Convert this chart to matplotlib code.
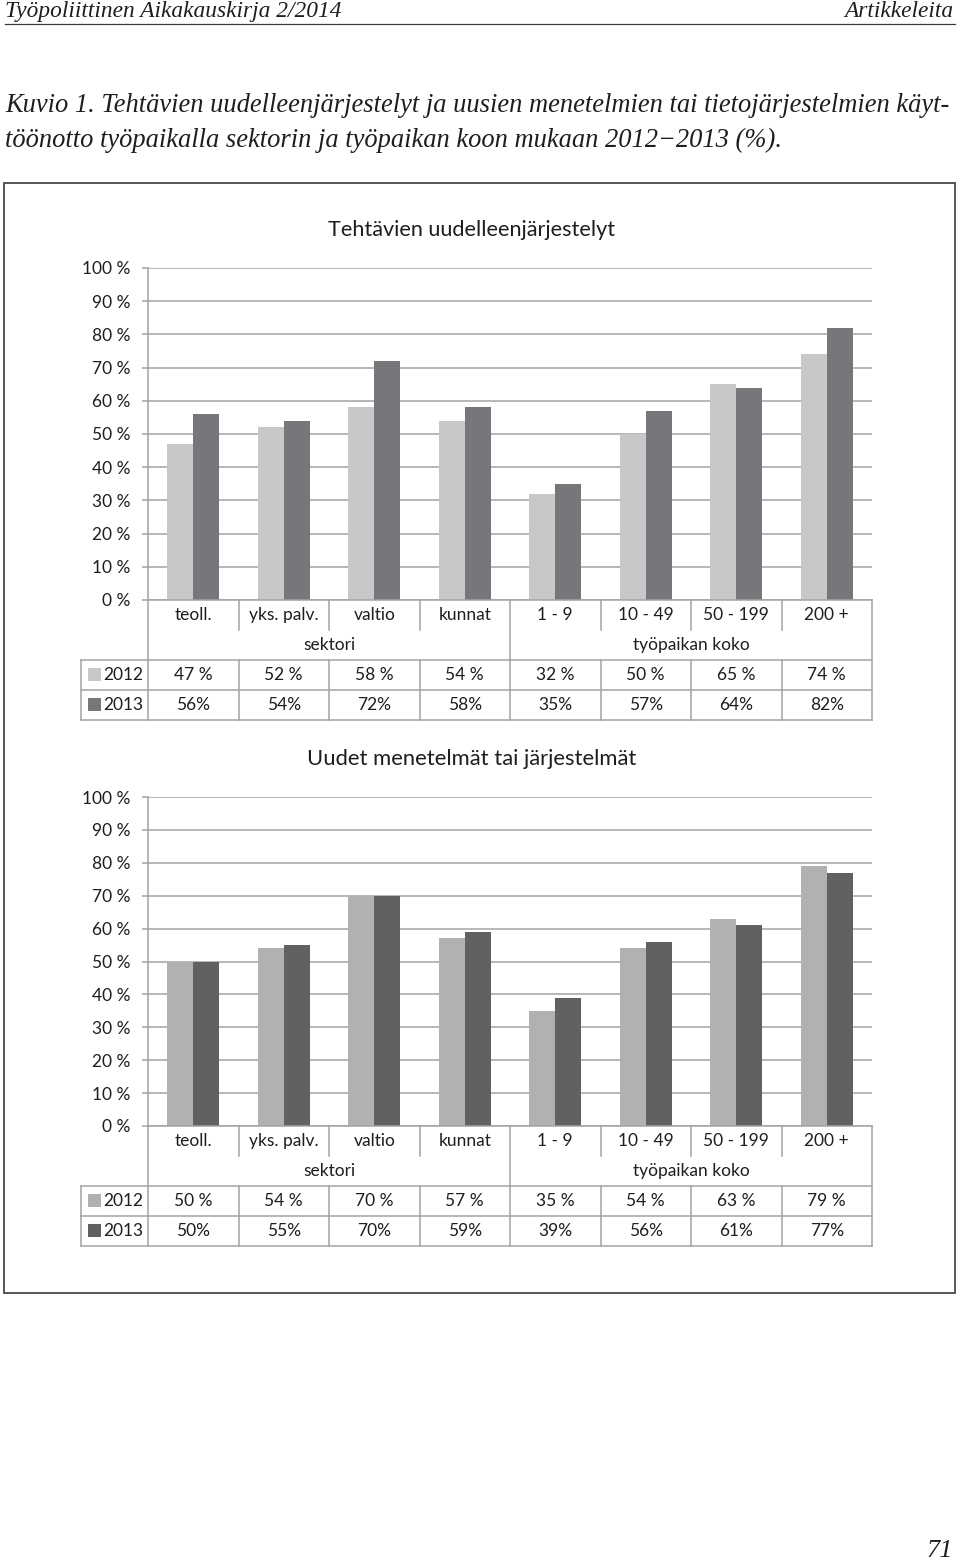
"""
Kuvio 1: task reorganisation and new methods / systems by sector and workplace size
"""

import numpy as np
import matplotlib
matplotlib.use('Agg')
import matplotlib.pyplot as plt
from matplotlib.transforms import Affine2D, blended_transform_factory
from matplotlib.patches import Rectangle
from matplotlib.lines import Line2D

# data
categories = ['teoll.', 'yks. palv.', 'valtio', 'kunnat', '1 - 9', '10 - 49', '50 - 199', '200 +']
group_labels = ['sektori', 'työpaikan koko']
group_centers = [2, 6]
years = ['2012', '2013']

reorg_2012 = [47, 52, 58, 54, 32, 50, 65, 74]
reorg_2013 = [56, 54, 72, 58, 35, 57, 64, 82]
methods_2012 = [50, 54, 70, 57, 35, 54, 63, 79]
methods_2013 = [50, 55, 70, 59, 39, 56, 61, 77]

yticks = list(range(0, 101, 10))

# styling
W, H = 960, 1559
GRID = '#a3a3a3'
TXT = '#1e1e1e'
FRAME = '#4a4a4a'
BAR_W = 0.285
TABLE_LEFT = -0.74   # legend column edge, in category units
FS = 12.5

plt.rcParams['font.family'] = ['Lato', 'DejaVu Sans']
SERIF = ['Liberation Serif', 'DejaVu Serif']

fig = plt.figure(figsize=(W / 100, H / 100), dpi=100)
fig.patch.set_facecolor('white')
# pixel coordinates measured from the top-left corner
pix = Affine2D().scale(1 / W, -1 / H).translate(0, 1) + fig.transFigure
renderer = fig.canvas.get_renderer()


def fit_width(t, target):
    w = t.get_window_extent(renderer).width
    t.set_fontsize(t.get_fontsize() * target / w)
    return t


def add_ax(left, top, right, bottom):
    return fig.add_axes([left / W, 1 - bottom / H, (right - left) / W, (bottom - top) / H])


def hline(tr, x0, x1, y):
    fig.add_artist(Line2D([x0, x1], [y, y], transform=tr, color=GRID, lw=1.1))


def vline(tr, x, y0, y1):
    fig.add_artist(Line2D([x, x], [y0, y1], transform=tr, color=GRID, lw=1.1))


def draw_chart(top, bottom, title, title_y, title_w, vals_a, vals_b, colors):
    ax = add_ax(148, top, 872, bottom)
    x = np.arange(len(categories)) + 0.5
    ax.bar(x - BAR_W / 2, vals_a, BAR_W, color=colors[0], zorder=2)
    ax.bar(x + BAR_W / 2, vals_b, BAR_W, color=colors[1], zorder=2)
    ax.set_xlim(0, len(categories))
    ax.set_ylim(0, 100)
    ax.set_yticks(yticks)
    ax.set_yticklabels([f'{v} %' for v in yticks])
    ax.yaxis.grid(True, color=GRID, lw=1.1)
    ax.set_axisbelow(True)
    for s in ['top', 'right']:
        ax.spines[s].set_visible(False)
    for s in ['left', 'bottom']:
        ax.spines[s].set_color(GRID)
        ax.spines[s].set_linewidth(1.1)
    ax.tick_params(axis='y', length=4.3, width=1.1, color=GRID, labelsize=FS,
                   labelcolor=TXT, pad=8.3)
    ax.tick_params(axis='x', length=0, labelbottom=False)

    t = fig.text(472, title_y, title, transform=pix, ha='center', va='center',
                 fontsize=14, color=TXT)
    fit_width(t, title_w)

    # data table under the axis
    tr = blended_transform_factory(ax.transData, pix)
    y0 = bottom
    n = len(categories)
    for i, lab in enumerate(categories):
        fig.text(i + 0.5, y0 + 15, lab, transform=tr, ha='center', va='center',
                 fontsize=FS, color=TXT)
    for g, c in zip(group_labels, group_centers):
        fig.text(c, y0 + 45, g, transform=tr, ha='center', va='center',
                 fontsize=FS, color=TXT)
    for k in range(1, n):
        vline(tr, k, y0, y0 + (60 if k == 4 else 30))
        vline(tr, k, y0 + 60, y0 + 120)
    vline(tr, 0, y0, y0 + 120)
    vline(tr, n, y0, y0 + 120)
    vline(tr, TABLE_LEFT, y0 + 60, y0 + 120)
    for yy in [y0 + 60, y0 + 90, y0 + 120]:
        hline(tr, TABLE_LEFT, n, yy)

    rows = [(years[0], vals_a, '{} %'), (years[1], vals_b, '{}%')]
    for r, (yr, vals, fmt) in enumerate(rows):
        cy = y0 + 75 + 30 * r
        fig.add_artist(Rectangle((88, cy - 6.5), 13, 13, transform=pix,
                                 facecolor=colors[r], edgecolor='none'))
        fig.text(103, cy, yr, transform=pix, ha='left', va='center',
                 fontsize=FS, color=TXT)
        for i, v in enumerate(vals):
            fig.text(i + 0.5, cy, fmt.format(v), transform=tr, ha='center',
                     va='center', fontsize=FS, color=TXT)
    return ax


# page header
t = fig.text(5, 17, 'Työpoliittinen Aikakauskirja 2/2014', transform=pix, ha='left',
             va='baseline', family=SERIF, style='italic', fontsize=16, color=TXT)
fit_width(t, 336)
fig.text(953, 17, 'Artikkeleita', transform=pix, ha='right', va='baseline',
         family=SERIF, style='italic', fontsize=t.get_fontsize(), color=TXT)
fig.add_artist(Line2D([5, 955], [24, 24], transform=pix, color='#3a3a3a', lw=0.9))

# caption
c1 = fig.text(5, 112, 'Kuvio 1. Tehtävien uudelleenjärjestelyt ja uusien menetelmien tai '
              'tietojärjestelmien käyt-', transform=pix, ha='left', va='baseline',
              family=SERIF, style='italic', fontsize=18, color=TXT)
fit_width(c1, 947)
fig.text(5, 147, 'töönotto työpaikalla sektorin ja työpaikan koon mukaan 2012\u22122013 (%).',
         transform=pix, ha='left', va='baseline', family=SERIF, style='italic',
         fontsize=c1.get_fontsize(), color=TXT)

# outer frame
fig.add_artist(Rectangle((4, 183), 951, 1110, transform=pix, facecolor='none',
                         edgecolor=FRAME, lw=1.3))

draw_chart(268, 600, 'Tehtävien uudelleenjärjestelyt', 230, 286,
           reorg_2012, reorg_2013, ['#c8c8c8', '#77777b'])
draw_chart(797, 1126, 'Uudet menetelmät tai järjestelmät', 759, 329,
           methods_2012, methods_2013, ['#b1b1b3', '#616162'])

# page number
fig.text(953, 1557, '71', transform=pix, ha='right', va='baseline', family=SERIF,
         style='italic', fontsize=19, color=TXT)

fig.savefig('out.png', dpi=100, facecolor='white')
